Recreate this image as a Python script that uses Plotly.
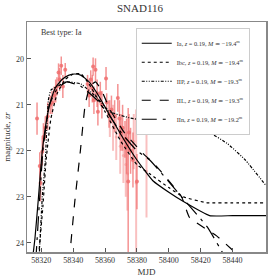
import plotly.graph_objects as go

# observations (MJD, magnitude zr, error)
obs_mjd = [58317.3, 58319.0, 58319.5, 58320.6, 58321.3, 58322.5, 58324.0, 58325.6, 58326.7, 58328.0,
           58329.0, 58329.8, 58330.8, 58331.5, 58332.5, 58333.5, 58335.0, 58349.0, 58350.0, 58351.0,
           58352.0, 58352.5, 58353.0, 58354.0, 58355.0, 58355.5, 58357.0, 58358.0, 58360.6, 58361.0,
           58362.5, 58364.0, 58366.0, 58368.0, 58369.0, 58370.0, 58371.0, 58372.5, 58373.5, 58374.5,
           58375.0, 58376.0, 58377.5, 58380.0, 58387.0]
obs_mag = [21.3, 22.33, 22.7, 22.02, 21.7, 21.5, 21.25, 21.0, 20.95, 20.8,
           20.7, 20.6, 20.3, 20.45, 20.15, 20.6, 20.24, 20.55, 20.8, 20.45,
           20.65, 20.17, 20.9, 20.24, 20.75, 21.15, 20.75, 21.0, 20.43, 20.95,
           21.2, 21.1, 21.25, 20.85, 21.3, 21.6, 21.5, 21.75, 21.9, 22.67,
           21.6, 22.0, 22.2, 22.67, 20.65]
obs_err = [0.35, 0.3, 0.4, 0.3, 0.3, 0.25, 0.3, 0.2, 0.25, 0.2,
           0.25, 0.2, 0.2, 0.25, 0.2, 0.25, 0.15, 0.2, 0.25, 0.2,
           0.3, 0.2, 0.3, 0.25, 0.3, 0.3, 0.25, 0.3, 0.25, 0.2,
           0.3, 0.3, 0.35, 0.3, 0.4, 0.4, 0.5, 0.4, 0.6, 1.6,
           0.4, 0.5, 0.6, 0.6, 0.15]
faint_mjd = [58363.0, 58365.0, 58367.0, 58369.5, 58371.5, 58373.0, 58374.0, 58378.0, 58379.5, 58386.0]
faint_mag = [21.3, 21.5, 21.7, 21.9, 22.1, 22.3, 22.5, 21.8, 22.7, 22.45]
faint_err = [0.4, 0.5, 0.5, 0.6, 0.6, 0.7, 0.8, 0.6, 1.6, 1.0]

# model curves
ia_mjd = [58314, 58316, 58318, 58320.6, 58323.7, 58326, 58329, 58333, 58337, 58341, 58345, 58350,
          58355, 58360, 58370, 58380, 58390, 58400, 58410, 58425.6, 58440, 58462]
ia_mag = [24.5, 23.9, 23.1, 22.0, 21.25, 20.9, 20.62, 20.45, 20.36, 20.33, 20.36, 20.5,
          20.75, 21.05, 21.65, 22.2, 22.65, 22.9, 23.12, 23.41, 23.41, 23.41]
ibc_mjd = [58318.0, 58321, 58323, 58326, 58330, 58335, 58340, 58345, 58350, 58355, 58360, 58370,
           58380, 58388, 58400, 58409, 58424, 58440, 58462]
ibc_mag = [24.4, 23.2, 22.2, 21.3, 20.75, 20.45, 20.33, 20.33, 20.55, 20.85, 21.15, 21.8,
           22.3, 22.5, 22.8, 23.0, 23.13, 23.13, 23.13]
iip_mjd = [58318.5, 58320.6, 58322.5, 58324.4, 58326, 58330, 58336, 58345, 58355, 58363, 58375,
           58388, 58400, 58425, 58437, 58448, 58462]
iip_mag = [24.4, 23.0, 22.2, 20.9, 20.68, 20.6, 20.5, 20.55, 20.85, 21.15, 21.28,
           21.37, 21.45, 21.6, 21.85, 22.2, 22.8]
iil_mjd = [58337.5, 58341, 58344.5, 58347.5, 58350.5, 58354, 58358, 58363, 58372, 58385, 58390,
           58408, 58413, 58430, 58446]
iil_mag = [24.4, 23.1, 22.0, 21.0, 20.6, 20.5, 20.7, 21.1, 21.6, 22.1, 22.25,
           23.0, 23.45, 23.85, 24.35]
iin_mjd = [58316.5, 58319, 58321, 58325, 58330, 58336, 58345, 58355, 58362, 58370, 58380, 58388,
           58408, 58424, 58436]
iin_mag = [24.4, 23.0, 22.0, 21.0, 20.65, 20.5, 20.6, 20.9, 21.2, 21.6, 22.0, 22.2,
           23.0, 23.65, 24.35]

labels = ["Ia, <i>z</i> = 0.19, <i>M</i> ≃ −19.4<sup>m</sup>",
          "Ibc, <i>z</i> = 0.19, <i>M</i> ≃ −19.4<sup>m</sup>",
          "IIP, <i>z</i> = 0.19, <i>M</i> ≃ −19.3<sup>m</sup>",
          "IIL, <i>z</i> = 0.19, <i>M</i> ≃ −19.3<sup>m</sup>",
          "IIn, <i>z</i> = 0.19, <i>M</i> ≃ −19.2<sup>m</sup>"]
x_ticks = [58320, 58340, 58360, 58380, 58400, 58420, 58440]
y_ticks = [20, 21, 22, 23, 24]

font = "Liberation Serif, DejaVu Serif, serif"
fig = go.Figure()

fig.add_trace(go.Scatter(x=faint_mjd, y=faint_mag, mode="markers",
                         error_y=dict(type="data", array=faint_err, color="rgba(245,150,150,0.6)",
                                      thickness=2, width=0),
                         marker=dict(size=3, color="rgba(245,150,150,0.6)"), showlegend=False))
fig.add_trace(go.Scatter(x=obs_mjd, y=obs_mag, mode="markers",
                         error_y=dict(type="data", array=obs_err, color="rgba(240,110,110,0.75)",
                                      thickness=1.5, width=0),
                         marker=dict(size=4, color="rgba(240,110,110,0.85)"), showlegend=False))

curves = [(ia_mjd, ia_mag, "solid"), (ibc_mjd, ibc_mag, "dot"),
          (iip_mjd, iip_mag, "3px,1.5px,1px,1.5px,1px,1.5px"),
          (iil_mjd, iil_mag, "dash"), (iin_mjd, iin_mag, "longdashdot")]
for (cx, cy, d), lab in zip(curves, labels):
    fig.add_trace(go.Scatter(x=cx, y=cy, mode="lines", name=lab,
                             line=dict(color="black", width=1.2, dash=d, shape="spline", smoothing=0.4)))

axis_common = dict(showgrid=False, zeroline=False, ticks="inside", ticklen=4, tickcolor="#555",
                   showline=True, linecolor="#888", linewidth=1.5, mirror=True, automargin=False,
                   tickfont=dict(size=8, family=font, color="#333"))
fig.update_layout(
    width=280, height=280,
    margin=dict(l=27, r=14, t=22, b=28, autoexpand=False),
    paper_bgcolor="white", plot_bgcolor="white",
    font=dict(family=font, color="#333"),
    hovermode=False,
    title=dict(text="SNAD116", x=0.5, xanchor="center", y=0.985, yanchor="top",
               font=dict(size=11, family=font, color="#333"), automargin=False),
    xaxis=dict(range=[58311, 58461], tickvals=x_ticks, ticktext=[str(v) for v in x_ticks],
               title=dict(text="MJD", font=dict(size=9, family=font), standoff=4), **axis_common),
    yaxis=dict(range=[24.2, 19.2], tickvals=y_ticks, ticktext=[str(v) for v in y_ticks],
               title=dict(text="magnitude, <i>zr</i>", font=dict(size=9, family=font), standoff=4),
               **axis_common),
    legend=dict(x=0.455, y=0.975, xanchor="left", yanchor="top", bgcolor="white",
                bordercolor="#ccc", borderwidth=1, font=dict(size=6.3, family=font, color="#333"),
                tracegroupgap=0, itemwidth=30),
    annotations=[dict(text="Best type: Ia", xref="paper", yref="paper", x=0.05, y=0.955,
                      xanchor="left", yanchor="middle", showarrow=False,
                      font=dict(size=8, family=font, color="#333"))],
)

fig.write_html("out.html", config={"displayModeBar": False, "staticPlot": True},
               post_script="document.body.style.margin='0';document.body.style.padding='0';document.body.style.overflow='hidden';")
